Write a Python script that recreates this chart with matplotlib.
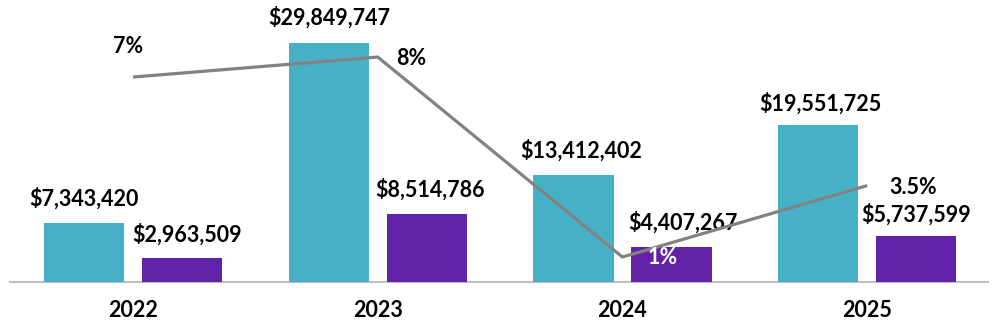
import matplotlib
matplotlib.use("Agg")
import matplotlib.pyplot as plt
import numpy as np

plt.rcParams['font.family'] = ['Lato', 'DejaVu Sans']

years = ["2022", "2023", "2024", "2025"]
series_a = [7343420, 29849747, 13412402, 19551725]
series_b = [2963509, 8514786, 4407267, 5737599]
rate = [7.3, 8.0, 1.0, 3.5]
rate_labels = ["7%", "8%", "1%", "3.5%"]

teal = "#46B1C6"
purple = "#6122A8"
grey = "#828282"

W, H = 998, 326
fig = plt.figure(figsize=(W / 100, H / 100), dpi=100)
ax = fig.add_axes([10 / W, (H - 282) / H, 978 / W, 282 / H])
ax2 = ax.twinx()

x = np.arange(len(years))
bw = 0.328
off = 0.2
ax.bar(x - off, series_a, bw, color=teal, zorder=2)
ax.bar(x + off, series_b, bw, color=purple, zorder=2)
ax.set_xlim(-0.503, 3.494)
ax.set_ylim(0, 35.22e6)

ax2.plot(x, rate, color=grey, lw=2.3, solid_capstyle="butt", zorder=3)
ax2.set_ylim(0.126, 9.997)

def money(v):
    return "${:,}".format(v)

fs = 15.5
# label offsets in pixels (dx, dy) from the top centre of each bar
off_a = [(0, 25), (0, 25), (8, 24), (2, 22)]
off_b = [(5, 24), (3, 24), (12, 24), (0, 22)]
for i in range(len(years)):
    ax.annotate(money(series_a[i]), (x[i] - off, series_a[i]), xytext=off_a[i],
                textcoords="offset pixels", ha="center", va="center",
                fontsize=fs, fontweight="bold", color="black")
    ax.annotate(money(series_b[i]), (x[i] + off, series_b[i]), xytext=off_b[i],
                textcoords="offset pixels", ha="center", va="center",
                fontsize=fs, fontweight="bold", color="black")

off_r = [(-5, 31), (33, -1), (40, 0), (46, -2)]
col_r = ["black", "black", "white", "black"]
for i in range(len(years)):
    ax2.annotate(rate_labels[i], (x[i], rate[i]), xytext=off_r[i],
                 textcoords="offset pixels", ha="center", va="center",
                 fontsize=fs, fontweight="bold", color=col_r[i], zorder=4)

ax.set_xticks(x)
ax.set_xticklabels(years, fontsize=fs, fontweight="bold")
ax.tick_params(axis="x", length=0, pad=13)
ax.set_yticks([])
ax2.set_yticks([])
for a in (ax, ax2):
    for s in ("top", "left", "right", "bottom"):
        a.spines[s].set_visible(False)
ax.spines["bottom"].set_visible(True)
ax.spines["bottom"].set_color("#BFBFBF")
ax.spines["bottom"].set_linewidth(1.5)
ax.spines["bottom"].set_zorder(1)

fig.savefig("out.png", dpi=100)
